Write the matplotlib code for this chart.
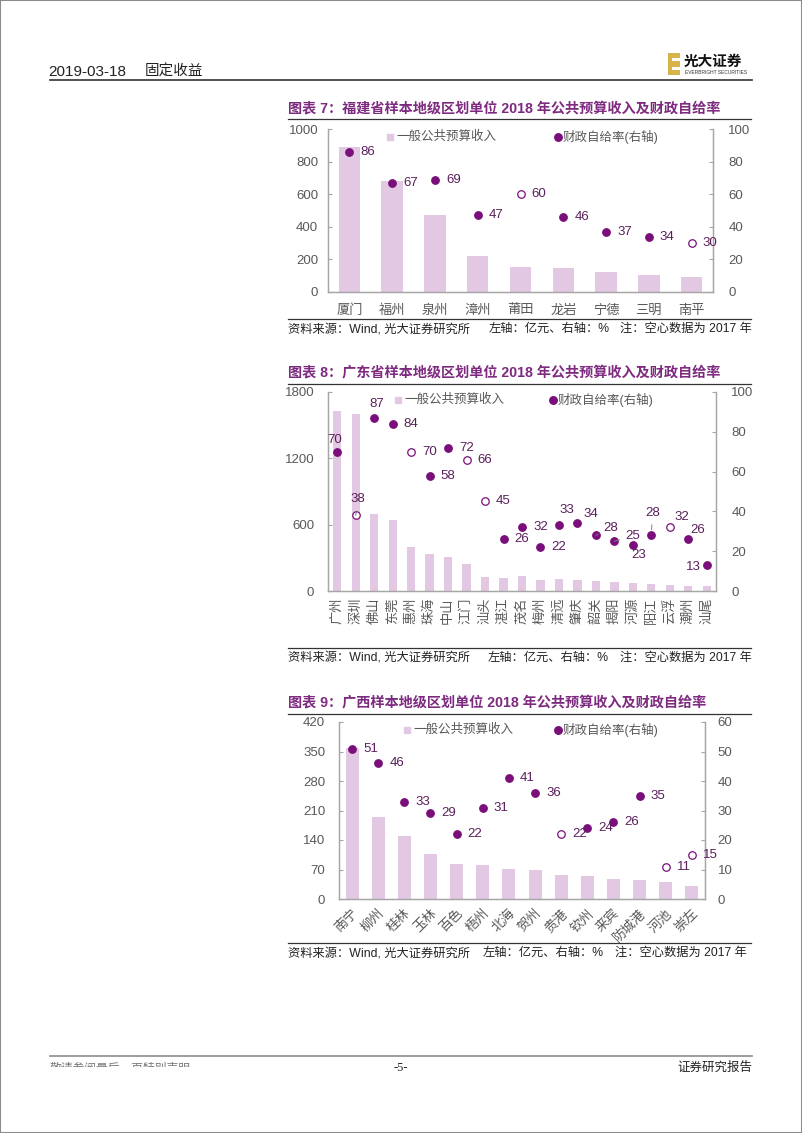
import matplotlib.pyplot as plt
from matplotlib.lines import Line2D
from matplotlib.patches import Rectangle

W, H = 802, 1133

# 图表7 福建
fj_city = ["厦门", "福州", "泉州", "漳州", "莆田", "龙岩", "宁德", "三明", "南平"]
fj_rev = [888, 682, 473, 218, 153, 149, 120, 106, 94]
fj_rate = [86, 67, 69, 47, 60, 46, 37, 34, 30]
fj_hollow = [0, 0, 0, 0, 1, 0, 0, 0, 1]

# 图表8 广东
gd_city = ["广州", "深圳", "佛山", "东莞", "惠州", "珠海", "中山", "江门", "汕头", "湛江", "茂名",
           "梅州", "清远", "肇庆", "韶关", "揭阳", "河源", "阳江", "云浮", "潮州", "汕尾"]
gd_rev = [1631, 1604, 698, 646, 396, 332, 311, 242, 127, 121, 133,
          97, 109, 103, 91, 79, 72, 60, 54, 45, 45]
gd_rate = [70, 38, 87, 84, 70, 58, 72, 66, 45, 26, 32, 22, 33, 34, 28, 25, 23, 28, 32, 26, 13]
gd_hollow = [0, 1, 0, 0, 1, 0, 0, 1, 1, 0, 0, 0, 0, 0, 0, 0, 0, 0, 1, 0, 0]

# 图表9 广西
gx_city = ["南宁", "柳州", "桂林", "玉林", "百色", "梧州", "北海", "贺州", "贵港", "钦州",
           "来宾", "防城港", "河池", "崇左"]
gx_rev = [359, 194, 150, 106, 84, 80, 71, 70, 57, 54, 48, 44, 40, 31]
gx_rate = [51, 46, 33, 29, 22, 31, 41, 36, 22, 24, 26, 35, 11, 15]
gx_hollow = [0, 0, 0, 0, 0, 0, 0, 0, 1, 0, 0, 0, 1, 1]

FONT = ["Liberation Sans", "Noto Sans CJK SC"]
plt.rcParams["font.family"] = FONT

BAR = "#E2C8E2"
DOT = "#7A0E7A"
LAB = "#5A1F5A"
TITLE = "#7D2A80"
SPINE = "#A6A6A6"
TICK = "#595959"

fig = plt.figure(figsize=(W / 100, H / 100), dpi=100)


def rect(x0, y0, x1, y1):
    return [x0 / W, 1 - y1 / H, (x1 - x0) / W, (y1 - y0) / H]


def ftext(x, y, s, **kw):
    return fig.text(x / W, 1 - y / H, s, **kw)


def hline(x0, x1, y, color="#333333", lw=0.9):
    fig.add_artist(Line2D([x0 / W, x1 / W], [1 - y / H] * 2, color=color, lw=lw))


def chart(box, title_y, src_y, title, cities, rev, rate, hollow,
          ylim_l, ticks_l, ylim_r, ticks_r, bar_w, xrot, legend_xy, pads, labels=None, leaders=()):
    ax = fig.add_axes(rect(*box))
    ax2 = ax.twinx()
    n = len(cities)
    x = list(range(n))
    ax.bar(x, rev, width=bar_w, color=BAR, zorder=1)
    for i in x:
        face = "white" if hollow[i] else DOT
        ax2.plot(i, rate[i], "o", ms=5.4, mfc=face, mec=DOT, mew=0.9, zorder=3)
        dx, dy, ha = (labels or {}).get(i, (11, 0, "left"))
        ap = dict(arrowstyle="-", color="#7F7F7F", lw=0.7, shrinkA=2, shrinkB=4) if i in leaders else None
        ax2.annotate(str(rate[i]), (i, rate[i]), xytext=(dx, -dy), textcoords="offset pixels",
                     ha=ha, va="center", fontsize=9.5, color=LAB, arrowprops=ap, zorder=4)
    ax.set_xlim(-0.5, n - 0.5)
    ax.set_ylim(*ylim_l)
    ax.set_yticks(ticks_l)
    ax2.set_ylim(*ylim_r)
    ax2.set_yticks(ticks_r)
    ax.set_xticks(x)
    if xrot == 0:
        ax.set_xticklabels(cities, fontsize=9.5, color=TICK)
    elif xrot == 90:
        ax.set_xticklabels(cities, fontsize=9.5, color=TICK, rotation=90, va="top")
    else:
        ax.set_xticklabels(cities, fontsize=9.5, color=TICK, rotation=45, ha="right",
                           rotation_mode="anchor")
    for a in (ax, ax2):
        a.spines["top"].set_visible(False)
        for s in ("left", "right", "bottom"):
            a.spines[s].set_color(SPINE)
            a.spines[s].set_linewidth(0.9)
    ax.tick_params(axis="x", length=0, pad=pads[0])
    ax.tick_params(axis="y", direction="in", length=3, color=SPINE, labelcolor=TICK,
                   labelsize=9.5, pad=pads[1])
    ax2.tick_params(axis="y", direction="in", length=3, color=SPINE, labelcolor=TICK,
                    labelsize=9.5, pad=pads[2])

    # title, rules, source
    ftext(288, title_y, title, fontsize=10.2, fontweight="bold", color=TITLE, va="center")
    hline(288, 751, title_y + 11)
    hline(288, 751, src_y - 10)
    ftext(288, src_y, "资料来源：Wind, 光大证券研究所", fontsize=8.8, color="#222222", va="center")
    ftext(legend_xy[2], src_y, "左轴：亿元、右轴：%", fontsize=8.8, color="#222222", va="center")
    ftext(legend_xy[3], src_y, "注：空心数据为 2017 年", fontsize=8.8, color="#222222", va="center")

    # legend
    lx, dx_, ly = legend_xy[0], legend_xy[1], box[1] + 8
    fig.add_artist(Line2D([lx / W], [1 - ly / H], marker="s", ms=5, color=BAR, lw=0))
    ftext(lx + 6, ly, "一般公共预算收入", fontsize=9, color=TICK, va="center")
    fig.add_artist(Line2D([dx_ / W], [1 - ly / H], marker="o", ms=5.4, color=DOT, lw=0))
    ftext(dx_ + 5, ly, "财政自给率(右轴)", fontsize=9, color=TICK, va="center")
    return ax, ax2


chart((328, 129, 713, 292), 108, 329,
      "图表 7：福建省样本地级区划单位 2018 年公共预算收入及财政自给率",
      fj_city, fj_rev, fj_rate, fj_hollow,
      (0, 1000), range(0, 1001, 200), (0, 100), range(0, 101, 20),
      0.5, 0, (390, 558, 489, 620), (9, 7, 11))

gd_labels = {
    0: (-3, -12, "center"), 1: (2, -16, "center"), 2: (3, -14, "center"),
    12: (8, -15, "center"), 13: (13, -9, "center"), 14: (15, -7, "center"),
    15: (18, -5, "center"), 16: (6, 10, "center"), 17: (1, -22, "center"),
    18: (12, -10, "center"), 19: (9, -9, "center"), 20: (-6, 2, "right"),
}
chart((328, 392, 716, 591), 373, 658,
      "图表 8：广东省样本地级区划单位 2018 年公共预算收入及财政自给率",
      gd_city, gd_rev, gd_rate, gd_hollow,
      (0, 1800), range(0, 1801, 600), (0, 100), range(0, 101, 20),
      0.45, 90, (398, 553, 488, 620), (5, 10, 11),
      labels=gd_labels, leaders=(1, 14, 15, 17))

chart((339, 722, 705, 899), 703, 953,
      "图表 9：广西样本地级区划单位 2018 年公共预算收入及财政自给率",
      gx_city, gx_rev, gx_rate, gx_hollow,
      (0, 420), range(0, 421, 70), (0, 60), range(0, 61, 10),
      0.5, 45, (407, 558, 483, 615), (6, 10, 9))

# header
ftext(48, 72, "2019-03-18", fontsize=11, color="#222222", va="center")
ftext(145, 72, "固定收益", fontsize=10.5, color="#222222", va="center")
hline(50, 752, 80, color="#333333", lw=1.2)
fig.add_artist(Rectangle((668 / W, 1 - 75 / H), 12 / W, 22 / H, color="#D8B24A", lw=0))
fig.add_artist(Rectangle((672 / W, 1 - 70 / H), 8 / W, 3 / H, color="white", lw=0))
fig.add_artist(Rectangle((672 / W, 1 - 61 / H), 8 / W, 3 / H, color="white", lw=0))
ftext(684, 62, "光大证券", fontsize=10.5, fontweight="bold", color="#111111", va="center")
ftext(685, 73, "EVERBRIGHT SECURITIES", fontsize=3.5, color="#333333", va="center")

# footer
hline(50, 752, 1056, color="#8C8C8C", lw=1.2)
ftext(50, 1069, "敬请参阅最后一页特别声明", fontsize=8.5, color="#777777", va="center")
fig.add_artist(Rectangle((40 / W, 1 - 1080 / H), 200 / W, 13 / H, color="white", lw=0, zorder=5))
ftext(401, 1068, "-5-", fontsize=9, family="Liberation Serif", color="#222222", ha="center", va="center")
ftext(752, 1068, "证券研究报告", fontsize=9, color="#222222", ha="right", va="center")

# page border
fig.add_artist(Rectangle((0, 0), 1, 1, fill=False, ec="#8C8C8C", lw=1.5, transform=fig.transFigure))

fig.savefig("out.png", dpi=100)
